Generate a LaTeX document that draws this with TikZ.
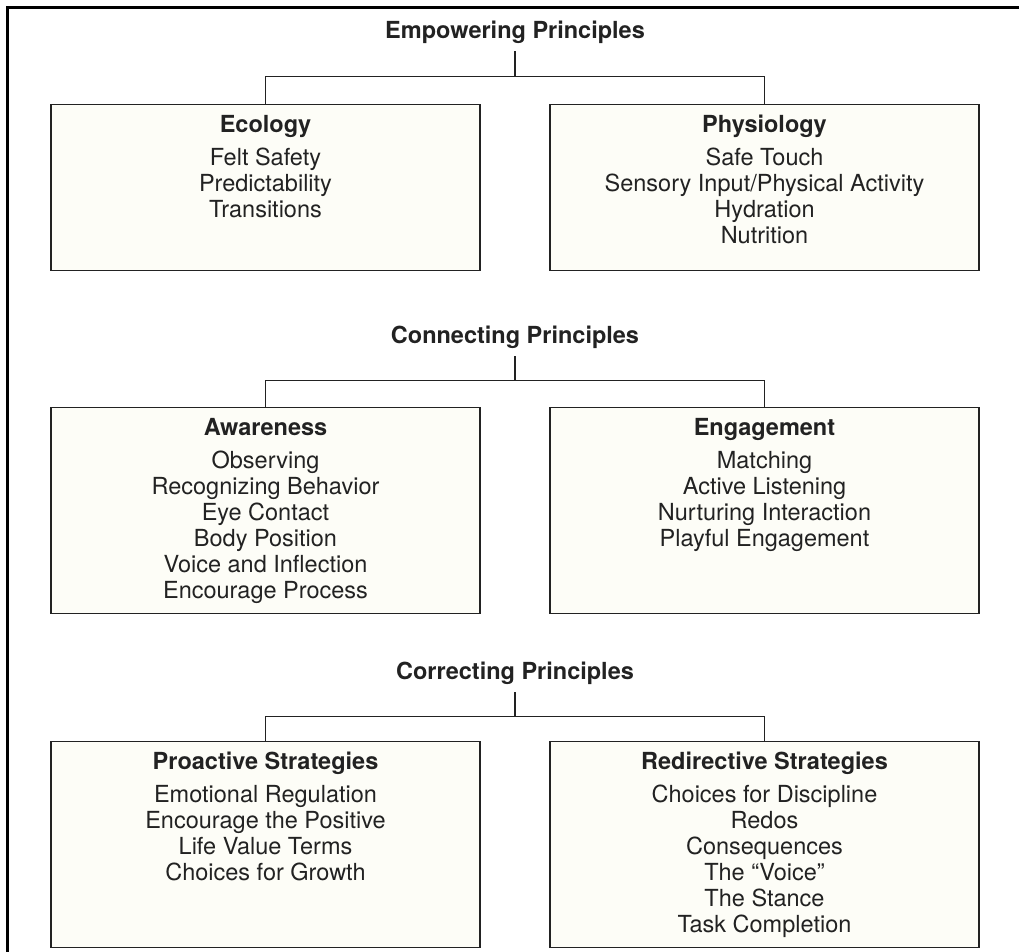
\documentclass[tikz,border=0pt]{standalone}
\usepackage{fontspec}
\setmainfont{TeX Gyre Heros}
\usetikzlibrary{positioning}
\definecolor{boxfill}{RGB}{253,253,247}
\definecolor{ink}{RGB}{34,34,34}
\tikzset{box/.style={draw=ink,fill=boxfill,line width=1.4pt,minimum width=429pt,anchor=north,inner sep=0},
         boxtext/.style={anchor=north,align=center,inner sep=0,text=ink,font=\fontsize{23.5}{26}\selectfont},
         title/.style={anchor=base,font=\fontsize{23.5}{26}\selectfont\bfseries,text=ink,inner xsep=0,inner ysep=8pt},
         branch/.style={draw=ink,line width=1.3pt}}

\begin{document}
\begin{tikzpicture}[x=1pt,y=-1pt]
\useasboundingbox (0,0) rectangle (1019,951);
\clip (0,0) rectangle (1019,951);
\draw[line width=2.5pt] (7.5,7.5) rectangle (1040,970);

% empowering
\node[title] (emp) at (515,38) {Empowering Principles};
\node[box,minimum height=166pt] (eco) at (265.5,104) {};
\node[box,minimum height=166pt] (phy) at (764.5,104) {};
\node[boxtext,below=11pt of eco.north] (eco-t) {\textbf{Ecology}\\[7pt] Felt Safety\\ Predictability\\ Transitions};
\node[boxtext,below=11pt of phy.north] (phy-t) {\textbf{Physiology}\\[7pt] Safe Touch\\ Sensory Input/Physical Activity\\ Hydration\\ Nutrition};
\draw[branch] (emp.south) -- ++(0,25) coordinate (emp-j) -| (eco.north);
\draw[branch] (emp-j) -| (phy.north);

% connecting
\node[title] (con) at (515,343) {Connecting Principles};
\node[box,minimum height=206pt] (awa) at (265.5,407) {};
\node[box,minimum height=206pt] (eng) at (764.5,407) {};
\node[boxtext,below=11pt of awa.north] (awa-t) {\textbf{Awareness}\\[7pt] Observing\\ Recognizing Behavior\\ Eye Contact\\ Body Position\\ Voice and Inflection\\ Encourage Process};
\node[boxtext,below=11pt of eng.north] (eng-t) {\textbf{Engagement}\\[7pt] Matching\\ Active Listening\\ Nurturing Interaction\\ Playful Engagement};
\draw[branch] (con.south) -- ++(0,24) coordinate (con-j) -| (awa.north);
\draw[branch] (con-j) -| (eng.north);

% correcting
\node[title] (cor) at (515,679) {Correcting Principles};
\node[box,minimum height=206pt] (pro) at (265.5,741) {};
\node[box,minimum height=206pt] (red) at (764.5,741) {};
\node[boxtext,below=11pt of pro.north] (pro-t) {\textbf{Proactive Strategies}\\[7pt] Emotional Regulation\\ Encourage the Positive\\ Life Value Terms\\ Choices for Growth};
\node[boxtext,below=11pt of red.north] (red-t) {\textbf{Redirective Strategies}\\[7pt] Choices for Discipline\\ Redos\\ Consequences\\ The “Voice”\\ The Stance\\ Task Completion};
\draw[branch] (cor.south) -- ++(0,24) coordinate (cor-j) -| (pro.north);
\draw[branch] (cor-j) -| (red.north);
\end{tikzpicture}
\end{document}
